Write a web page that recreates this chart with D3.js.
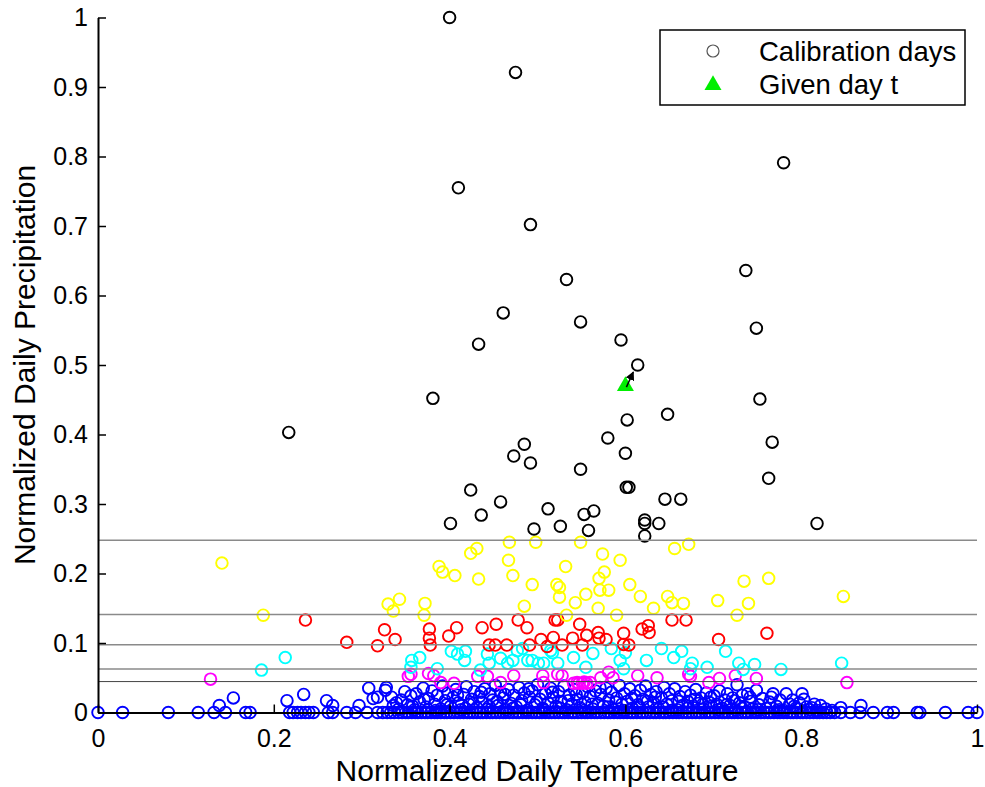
<!DOCTYPE html>
<html><head><meta charset="utf-8">
<script src="https://cdn.jsdelivr.net/npm/d3@7"></script>
<style>body{margin:0;background:#fff}svg{display:block;font-family:Arial,"Liberation Sans",sans-serif}</style>
</head><body><svg id="c" width="985" height="787"></svg>
<script>
// ---- data ----
const xTicks = [0, 0.2, 0.4, 0.6, 0.8, 1];
const yTicks = [0, 0.1, 0.2, 0.3, 0.4, 0.5, 0.6, 0.7, 0.8, 0.9, 1];
const thresholds = [0.248, 0.141, 0.0975, 0.0625, 0.0445];

const givenDay = [0.600, 0.471];
const arrowTarget = [0.609, 0.490];

const blackDays = [[0.400,1.0],[0.475,0.921],[0.410,0.755],[0.492,0.702],[0.780,0.791],[0.533,0.623],[0.737,0.636],[0.461,0.575],[0.549,0.562],[0.749,0.553],[0.433,0.530],[0.595,0.536],[0.614,0.500],[0.381,0.452],[0.753,0.451],[0.602,0.421],[0.648,0.429],[0.580,0.395],[0.485,0.386],[0.767,0.389],[0.473,0.369],[0.492,0.359],[0.600,0.373],[0.549,0.350],[0.217,0.403],[0.763,0.337],[0.424,0.320],[0.458,0.303],[0.436,0.284],[0.401,0.272],[0.512,0.293],[0.496,0.264],[0.526,0.268],[0.553,0.285],[0.564,0.290],[0.558,0.262],[0.601,0.324],[0.604,0.324],[0.622,0.277],[0.622,0.272],[0.622,0.254],[0.638,0.272],[0.645,0.307],[0.663,0.307],[0.818,0.272]];

const yellowDays = [[0.141,0.215],[0.188,0.140],[0.330,0.156],[0.336,0.146],[0.343,0.163],[0.372,0.157],[0.371,0.140],[0.388,0.210],[0.392,0.202],[0.406,0.197],[0.424,0.229],[0.431,0.236],[0.433,0.192],[0.468,0.245],[0.467,0.219],[0.472,0.197],[0.498,0.245],[0.494,0.184],[0.485,0.153],[0.522,0.184],[0.525,0.180],[0.525,0.166],[0.532,0.210],[0.533,0.140],[0.543,0.158],[0.549,0.245],[0.555,0.170],[0.570,0.193],[0.574,0.228],[0.576,0.202],[0.571,0.176],[0.581,0.176],[0.569,0.150],[0.590,0.140],[0.594,0.219],[0.605,0.184],[0.617,0.167],[0.632,0.150],[0.648,0.167],[0.653,0.158],[0.666,0.157],[0.656,0.236],[0.672,0.242],[0.705,0.161],[0.735,0.189],[0.763,0.193],[0.740,0.157],[0.727,0.140],[0.848,0.167]];

const redDays = [[0.236,0.133],[0.283,0.101],[0.318,0.096],[0.326,0.119],[0.338,0.105],[0.377,0.120],[0.377,0.107],[0.378,0.097],[0.399,0.110],[0.408,0.122],[0.437,0.122],[0.453,0.127],[0.445,0.097],[0.452,0.097],[0.465,0.097],[0.478,0.133],[0.488,0.122],[0.491,0.097],[0.504,0.105],[0.518,0.108],[0.511,0.095],[0.520,0.133],[0.523,0.133],[0.548,0.127],[0.528,0.097],[0.540,0.107],[0.556,0.111],[0.551,0.097],[0.569,0.115],[0.570,0.107],[0.578,0.105],[0.598,0.114],[0.598,0.098],[0.604,0.097],[0.619,0.120],[0.626,0.125],[0.627,0.115],[0.653,0.133],[0.669,0.133],[0.706,0.105],[0.761,0.114]];

const cyanDays = [[0.186,0.061],[0.213,0.079],[0.356,0.065],[0.366,0.079],[0.357,0.075],[0.386,0.063],[0.402,0.088],[0.409,0.084],[0.418,0.088],[0.417,0.075],[0.435,0.061],[0.443,0.084],[0.445,0.071],[0.458,0.078],[0.466,0.071],[0.472,0.075],[0.477,0.089],[0.483,0.092],[0.489,0.075],[0.494,0.075],[0.501,0.071],[0.515,0.089],[0.517,0.086],[0.523,0.071],[0.507,0.071],[0.541,0.079],[0.555,0.065],[0.563,0.085],[0.584,0.092],[0.594,0.075],[0.600,0.086],[0.598,0.063],[0.624,0.075],[0.641,0.092],[0.655,0.079],[0.664,0.088],[0.676,0.071],[0.674,0.063],[0.693,0.065],[0.714,0.088],[0.729,0.071],[0.734,0.062],[0.747,0.069],[0.777,0.062],[0.846,0.071]];

const magentaDays = [[0.128,0.048],[0.353,0.052],[0.356,0.055],[0.376,0.056],[0.382,0.053],[0.390,0.043],[0.405,0.042],[0.432,0.052],[0.443,0.052],[0.458,0.043],[0.473,0.053],[0.506,0.053],[0.507,0.043],[0.523,0.055],[0.528,0.053],[0.541,0.042],[0.545,0.043],[0.547,0.042],[0.551,0.042],[0.553,0.044],[0.556,0.042],[0.560,0.043],[0.572,0.050],[0.581,0.058],[0.586,0.050],[0.614,0.053],[0.636,0.050],[0.672,0.055],[0.674,0.052],[0.695,0.043],[0.707,0.049],[0.725,0.053],[0.749,0.049],[0.852,0.043]];

const blueZeroX = [0,0.028,0.08,0.114,0.132,0.145,0.168,0.173,0.218,0.222,0.227,0.231,0.236,0.24,0.245,0.262,0.267,0.283,0.293,0.306,0.318,0.324,0.329,0.333,0.337,0.342,0.346,0.35,0.353,0.357,0.361,0.364,0.368,0.372,0.375,0.379,0.383,0.386,0.39,0.394,0.397,0.401,0.405,0.409,0.412,0.416,0.42,0.423,0.427,0.431,0.435,0.438,0.442,0.446,0.449,0.453,0.457,0.461,0.464,0.468,0.472,0.476,0.479,0.483,0.487,0.49,0.494,0.498,0.502,0.505,0.509,0.513,0.516,0.52,0.524,0.528,0.531,0.535,0.539,0.542,0.546,0.55,0.554,0.557,0.561,0.565,0.568,0.572,0.576,0.58,0.583,0.587,0.591,0.594,0.598,0.602,0.606,0.609,0.613,0.617,0.62,0.624,0.628,0.632,0.635,0.639,0.643,0.646,0.65,0.654,0.658,0.661,0.665,0.669,0.672,0.676,0.68,0.684,0.687,0.691,0.695,0.698,0.702,0.706,0.71,0.713,0.717,0.721,0.724,0.728,0.732,0.736,0.739,0.743,0.747,0.75,0.754,0.758,0.762,0.765,0.769,0.773,0.776,0.78,0.784,0.788,0.791,0.795,0.799,0.802,0.806,0.81,0.814,0.818,0.821,0.825,0.829,0.833,0.838,0.845,0.856,0.867,0.882,0.898,0.905,0.932,0.935,0.964,0.99,1.0];

const blueWetDays = [[0.138,0.01],[0.154,0.021],[0.215,0.017],[0.234,0.026],[0.26,0.017],[0.267,0.01],[0.297,0.01],[0.308,0.035],[0.313,0.02],[0.318,0.022],[0.327,0.032],[0.328,0.036],[0.334,0.022],[0.336,0.01],
[0.342,0.005],[0.345,0.018],[0.349,0.03],[0.352,0.011],[0.356,0.024],[0.36,0.004],[0.362,0.027],[0.366,0.015],[0.37,0.035],[0.373,0.008],[0.376,0.02],[0.38,0.031],[0.383,0.012],[0.386,0.025],[0.39,0.005],[0.392,0.038],[0.395,0.017],[0.398,0.028],[0.401,0.009],[0.404,0.022],[0.407,0.033],[0.41,0.014],[0.413,0.004],[0.416,0.026],[0.419,0.037],[0.422,0.012],[0.425,0.019],[0.428,0.03],[0.431,0.007],[0.434,0.023],[0.437,0.015],[0.44,0.034],[0.443,0.005],[0.446,0.027],[0.449,0.018],[0.452,0.039],[0.455,0.01],[0.458,0.029],[0.461,0.021],[0.464,0.004],[0.467,0.033],[0.47,0.013],[0.473,0.025],[0.476,0.008],[0.479,0.036],[0.482,0.017],[0.485,0.028],[0.488,0.003],[0.491,0.022],[0.494,0.031],[0.497,0.011],[0.5,0.04],[0.503,0.019],[0.506,0.006],[0.509,0.027],[0.512,0.014],[0.515,0.035],[0.518,0.022],[0.521,0.009],[0.524,0.03],[0.527,0.016],[0.53,0.038],[0.533,0.004],[0.536,0.025],[0.539,0.012],[0.542,0.033],[0.545,0.019],[0.548,0.007],[0.551,0.028],[0.554,0.015],[0.557,0.037],[0.56,0.023],[0.563,0.005],[0.566,0.031],[0.569,0.013],[0.572,0.026],[0.575,0.009],[0.578,0.035],[0.581,0.018],[0.584,0.029],[0.587,0.004],[0.59,0.021],[0.593,0.039],[0.596,0.012],[0.599,0.027],[0.602,0.016],[0.605,0.034],[0.608,0.006],[0.611,0.024],[0.614,0.011],[0.617,0.032],[0.62,0.019],[0.623,0.038],[0.626,0.008],[0.629,0.026],[0.632,0.014],[0.635,0.03],[0.638,0.005],[0.641,0.021],[0.644,0.036],[0.647,0.012],[0.65,0.027],[0.653,0.017],[0.656,0.034],[0.659,0.004],[0.662,0.023],[0.665,0.01],[0.668,0.03],[0.671,0.016],[0.674,0.025],[0.677,0.007],[0.68,0.033],[0.683,0.013],[0.686,0.021],[0.689,0.005],[0.692,0.028],[0.695,0.015],[0.698,0.009],[0.701,0.024],[0.704,0.012],[0.707,0.031],[0.71,0.006],[0.713,0.018],[0.716,0.027],[0.719,0.01],[0.722,0.021],[0.725,0.004],[0.727,0.04],[0.73,0.014],[0.733,0.025],[0.736,0.008],[0.739,0.027],[0.742,0.016],[0.745,0.005],[0.749,0.032],[0.752,0.011],[0.756,0.02],[0.76,0.006],[0.764,0.015],[0.768,0.027],[0.772,0.009],[0.776,0.018],[0.78,0.003],[0.783,0.027],[0.787,0.012],[0.79,0.018],[0.794,0.006],[0.798,0.014],[0.801,0.027],[0.806,0.008],[0.81,0.004],[0.815,0.012],[0.822,0.01],[0.828,0.005],[0.835,0.003],[0.845,0.007],[0.868,0.01],
[0.3395,0.014],[0.358,0.009],[0.371,0.019],[0.384,0.003],[0.397,0.011],[0.409,0.025],[0.418,0.006],[0.427,0.013],[0.436,0.029],[0.445,0.009],[0.454,0.016],[0.463,0.026],[0.472,0.006],[0.481,0.011],[0.49,0.034],[0.499,0.015],[0.508,0.003],[0.517,0.029],[0.526,0.006],[0.535,0.017],[0.544,0.026],[0.553,0.003],[0.562,0.012],[0.571,0.036],[0.58,0.008],[0.589,0.015],[0.598,0.003],[0.607,0.02],[0.616,0.007],[0.625,0.016],[0.634,0.022],[0.643,0.008],[0.652,0.003],[0.661,0.016],[0.67,0.006],[0.679,0.019],[0.688,0.012],[0.697,0.022],[0.706,0.004],[0.715,0.011],[0.724,0.017],[0.733,0.006],[0.742,0.022],[0.751,0.004],[0.766,0.022],[0.775,0.004],[0.792,0.009],[0.803,0.019],[0.812,0.007],[0.818,0.003]];

const legendLabels = ["Calibration days", "Given day t"];
const axisTitles = {x: "Normalized Daily Temperature", y: "Normalized Daily Precipitation"};

// ---- drawing ----
const svg = d3.select("#c");
const x = d3.scaleLinear().domain([0, 1]).range([98, 977]);
const y = d3.scaleLinear().domain([0, 1]).range([712.5, 17.5]);

const groups = [
  {data: blueZeroX.map(v => [v, 0]), color: "#0000ff"},
  {data: blueWetDays, color: "#0000ff"},
  {data: magentaDays, color: "#ff00ff"},
  {data: cyanDays, color: "#00ffff"},
  {data: redDays, color: "#ff0000"},
  {data: yellowDays, color: "#ffff00"},
  {data: blackDays, color: "#000000"}
];
groups.forEach(g => {
  svg.append("g").selectAll("circle").data(g.data).join("circle")
    .attr("cx", d => x(d[0])).attr("cy", d => y(d[1])).attr("r", 5.8)
    .attr("fill", "none").attr("stroke", g.color).attr("stroke-width", 1.9);
});

// threshold lines
svg.append("g").selectAll("line").data(thresholds).join("line")
  .attr("x1", x(0)).attr("x2", x(1))
  .attr("y1", d => y(d)).attr("y2", d => y(d))
  .attr("stroke", (d, i) => i === thresholds.length - 1 ? "#444" : "#8a8a8a")
  .attr("stroke-width", (d, i) => i === thresholds.length - 1 ? 1 : 1.5);

// given day triangle + arrow
const tri = d3.symbol().type(d3.symbolTriangle).size(125);
svg.append("path").attr("d", tri)
  .attr("transform", `translate(${x(givenDay[0])},${y(givenDay[1]) + 1})`)
  .attr("fill", "#00ee00");
svg.append("defs").append("marker").attr("id", "ah").attr("viewBox", "0 0 10 10")
  .attr("refX", 9).attr("refY", 5).attr("markerWidth", 6).attr("markerHeight", 6).attr("orient", "auto")
  .append("path").attr("d", "M0,0L10,5L0,10z").attr("fill", "#000");
svg.append("line")
  .attr("x1", x(givenDay[0]) + 1).attr("y1", y(givenDay[1]) + 2)
  .attr("x2", x(arrowTarget[0])).attr("y2", y(arrowTarget[1]))
  .attr("stroke", "#000").attr("stroke-width", 1.5).attr("marker-end", "url(#ah)");

// axes
const xAxis = d3.axisBottom(x).tickValues(xTicks).tickFormat(d3.format("")).tickSizeInner(-8).tickSizeOuter(0).tickPadding(17);
const yAxis = d3.axisLeft(y).tickValues(yTicks).tickFormat(d3.format("")).tickSizeInner(-8).tickSizeOuter(0).tickPadding(10);
const gx = svg.append("g").attr("transform", `translate(0,${y(0)})`).call(xAxis);
const gy = svg.append("g").attr("transform", `translate(${x(0)},0)`).call(yAxis);
[gx, gy].forEach(g => {
  g.select(".domain").attr("stroke", "#000").attr("stroke-width", 2);
  g.selectAll(".tick line").attr("stroke", "#000").attr("stroke-width", 1.5);
  g.selectAll("text").attr("font-size", 25).attr("fill", "#000").attr("font-family", "Arial, 'Liberation Sans', sans-serif");
});

svg.append("text").attr("x", 537).attr("y", 781).attr("text-anchor", "middle")
  .attr("font-size", 30).text(axisTitles.x);
svg.append("text").attr("transform", "translate(35,365) rotate(-90)").attr("text-anchor", "middle")
  .attr("font-size", 30).text(axisTitles.y);

// legend
const lg = svg.append("g");
lg.append("rect").attr("x", 660).attr("y", 30).attr("width", 305).attr("height", 75)
  .attr("fill", "#fff").attr("stroke", "#000").attr("stroke-width", 1.5);
lg.append("circle").attr("cx", 713).attr("cy", 51).attr("r", 6).attr("fill", "none").attr("stroke", "#555").attr("stroke-width", 1.2);
lg.append("path").attr("d", tri).attr("transform", "translate(713,85)").attr("fill", "#00ee00");
lg.selectAll("text").data(legendLabels).join("text")
  .attr("x", 759).attr("y", (d, i) => 61 + i * 33).attr("font-size", 27.5).text(d => d);
</script></body></html>
